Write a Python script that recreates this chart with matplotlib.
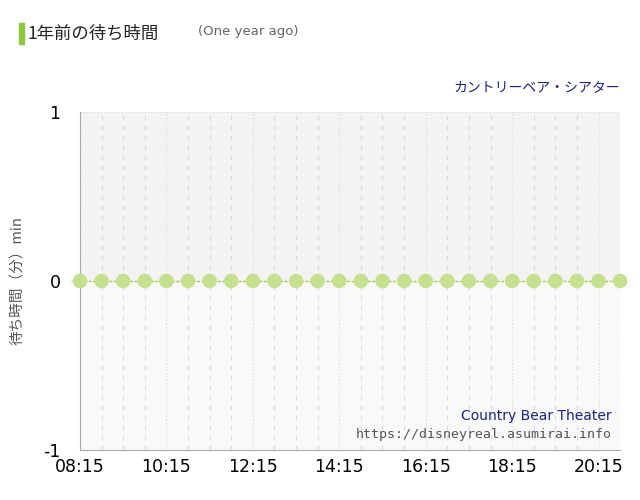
import numpy as np
import matplotlib
matplotlib.use("Agg")
import matplotlib.pyplot as plt
from matplotlib.patches import Rectangle

plt.rcParams['font.family'] = ['Noto Sans CJK JP', 'DejaVu Sans']

# half-hour slots from 08:15 to 20:45
start_min = 8 * 60 + 15
times = [start_min + 30 * i for i in range(26)]
waits = [0] * 26
tick_labels = ["08:15", "10:15", "12:15", "14:15", "16:15", "18:15", "20:15"]
tick_pos = [start_min + 120 * i for i in range(7)]

fig = plt.figure(figsize=(6.4, 5.0), dpi=100)
ax = fig.add_axes([0.125, 0.1, 0.844, 0.676])
xmin, xmax = times[0], times[-1]
ax.set_xlim(xmin, xmax)
ax.set_ylim(-1, 1)

ax.add_patch(Rectangle((xmin, 0), xmax - xmin, 1, color="#f3f3f3", zorder=0))
ax.add_patch(Rectangle((xmin, -1), xmax - xmin, 1, color="#f9f9f9", zorder=0))

for t in times:
    ls = ":" if t in tick_pos else (0, (4, 4))
    ax.axvline(t, color="#dddddd", lw=0.9, ls=ls, zorder=1)
ax.axhline(1, color="#dddddd", lw=0.8, ls=":", zorder=1)
ax.plot([xmin - 12, xmin], [0, 0], color="#dddddd", lw=1, clip_on=False)

ax.plot(times, waits, color="#9ccc3c", lw=1, ls=(0, (2, 1)), zorder=2)
ax.scatter(times, waits, s=110, color="#c5e08f", edgecolors="none", zorder=3, clip_on=False)

for s in ["top", "right"]:
    ax.spines[s].set_visible(False)
ax.spines["left"].set_color("#aaaaaa")
ax.spines["bottom"].set_color("#aaaaaa")
ax.set_xticks(tick_pos)
ax.set_xticklabels(tick_labels, fontsize=12.5, family="DejaVu Sans")
ax.set_yticks([-1, 0, 1])
ax.set_yticklabels(["-1", "0", "1"], fontsize=12.5, family="DejaVu Sans")
ax.tick_params(axis="x", length=0, pad=6)
ax.tick_params(axis="y", length=0, pad=14)
ax.set_ylabel("待ち時間（分）min", fontsize=10.5, color="#555555", labelpad=14)

fig.add_artist(Rectangle((0.03, 0.912), 0.007, 0.042, color="#8cc63f", transform=fig.transFigure))
fig.text(0.043, 0.933, "1年前の待ち時間", fontsize=12.5, va="center", color="#222222")
fig.text(0.31, 0.938, "(One year ago)", fontsize=9.5, va="center", color="#666666",
         family="DejaVu Sans")
fig.text(0.969, 0.826, "カントリーベア・シアター", fontsize=10, ha="right", va="center", color="#1a237e")
ax.text(0.985, 0.09, "Country Bear Theater", transform=ax.transAxes, ha="right",
        fontsize=10, color="#1a237e", family="DejaVu Sans")
ax.text(0.985, 0.035, "https://disneyreal.asumirai.info", transform=ax.transAxes, ha="right",
        fontsize=9.5, color="#555555", family=["DejaVu Sans Mono", "DejaVu Sans"])

fig.savefig("out.png", dpi=100)
